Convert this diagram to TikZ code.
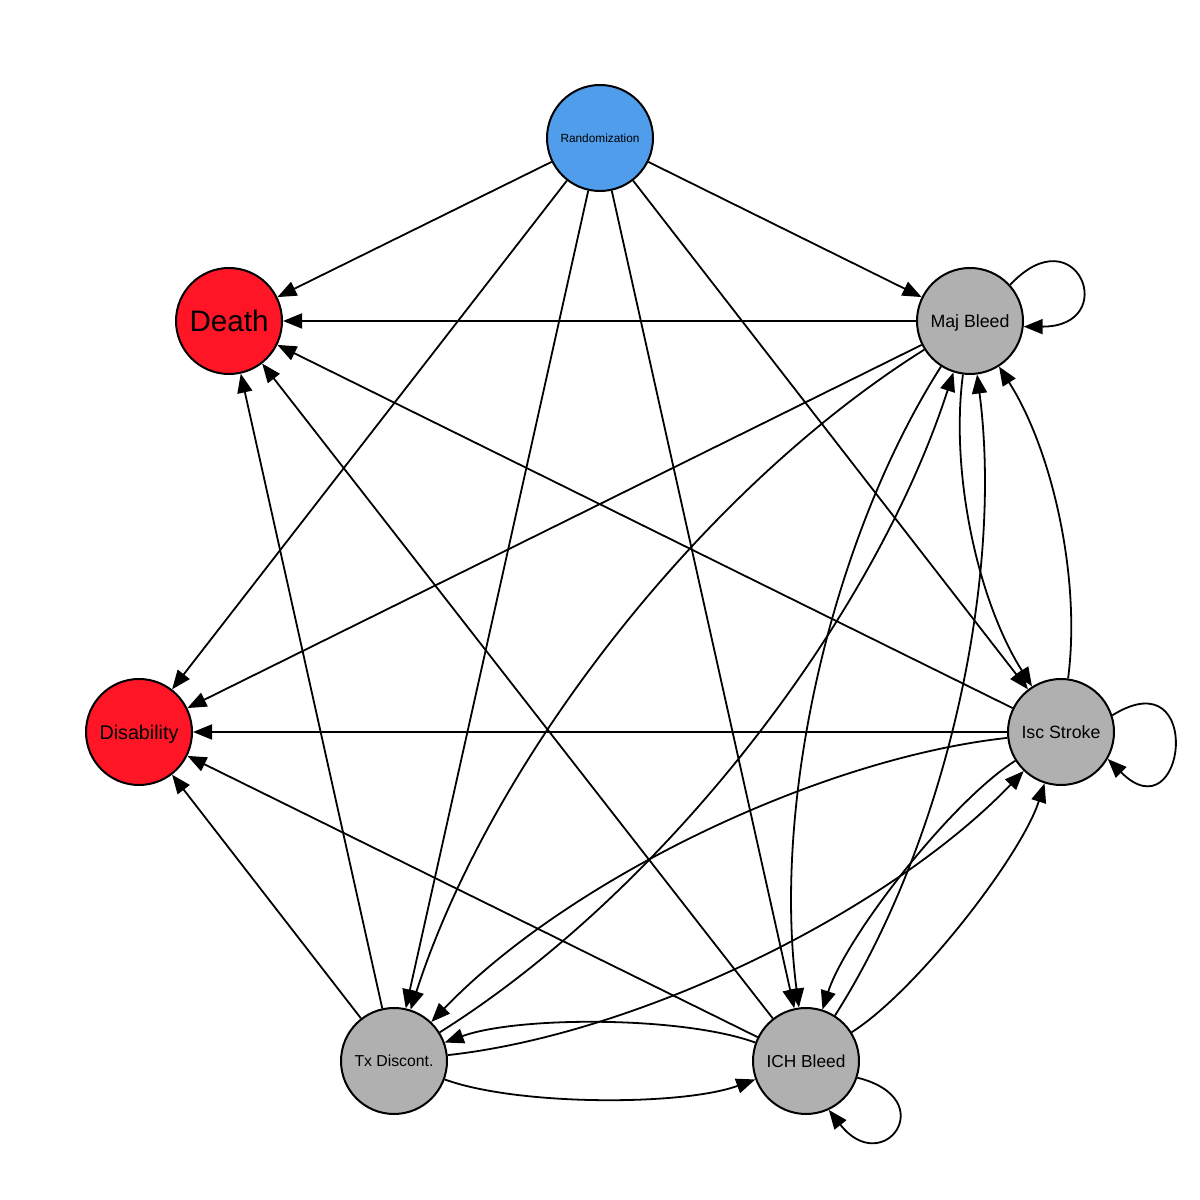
\documentclass[tikz,border=0pt]{standalone}
\usepackage{fontspec}
\setmainfont{Liberation Sans}
\usepackage{graphicx}
\usetikzlibrary{arrows.meta}
\definecolor{randblue}{RGB}{80,157,235}
\definecolor{endred}{RGB}{255,22,38}
\definecolor{stgray}{RGB}{176,176,176}
\newcommand{\nlbl}[1]{\raisebox{0pt}[\height][0pt]{\resizebox{39.5pt}{!}{#1}}}
\begin{document}
\begin{tikzpicture}[x=0.5pt,y=0.5pt,
  state/.style={circle,draw=black,line width=1pt,minimum size=53pt,inner sep=0pt,text=black},
  link/.style={draw=black,line width=0.9pt,-{Triangle[length=9.5pt,width=7.5pt]}},
  pair/.style={link,bend right=20,looseness=0.8}]
\fill[white] (0,0) rectangle (1200,1200);
\useasboundingbox (0,0) rectangle (1200,1200);
\node[state,fill=randblue] (rand) at (600,1062) {\nlbl{Randomization}};
\node[state,fill=endred] (death) at (229,879) {\nlbl{Death}};
\node[state,fill=stgray] (maj) at (970,879) {\nlbl{Maj Bleed}};
\node[state,fill=endred] (dis) at (139,468) {\nlbl{Disability}};
\node[state,fill=stgray] (isc) at (1061,468) {\nlbl{Isc Stroke}};
\node[state,fill=stgray] (tx) at (394,139) {\nlbl{Tx Discont.}};
\node[state,fill=stgray] (ich) at (806,139) {\nlbl{ICH Bleed}};
% straight edges
\draw[link] (rand) -- (death);
\draw[link] (rand) -- (maj);
\draw[link] (rand) -- (dis);
\draw[link] (rand) -- (tx);
\draw[link] (rand) -- (ich);
\draw[link] (rand) -- (isc);
\draw[link] (maj) -- (death);
\draw[link] (maj) -- (dis);
\draw[link] (isc) -- (death);
\draw[link] (isc) -- (dis);
\draw[link] (ich) -- (death);
\draw[link] (ich) -- (dis);
\draw[link] (tx) -- (death);
\draw[link] (tx) -- (dis);
% curved pairs
\draw[pair] (maj) to (isc);
\draw[pair] (isc) to (maj);
\draw[pair] (maj) to (ich);
\draw[pair] (ich) to (maj);
\draw[pair] (maj) to (tx);
\draw[pair] (tx) to (maj);
\draw[pair,looseness=0.62] (isc) to (ich);
\draw[pair,looseness=0.62] (ich) to (isc);
\draw[pair,looseness=0.77] (isc) to (tx);
\draw[pair,looseness=0.77] (tx) to (isc);
\draw[pair,looseness=0.64] (tx) to (ich);
\draw[pair,looseness=0.64] (ich) to (tx);
% self loops
\draw[link] (maj.42) .. controls +(47:98) and +(0:98) .. (maj.-6);
\draw[link] (isc.18) .. controls +(32:110) and +(-45:110) .. (isc.-30);
\draw[link] (ich.-18) .. controls +(-14:88) and +(-52:88) .. (ich.-65);
\end{tikzpicture}
\end{document}
